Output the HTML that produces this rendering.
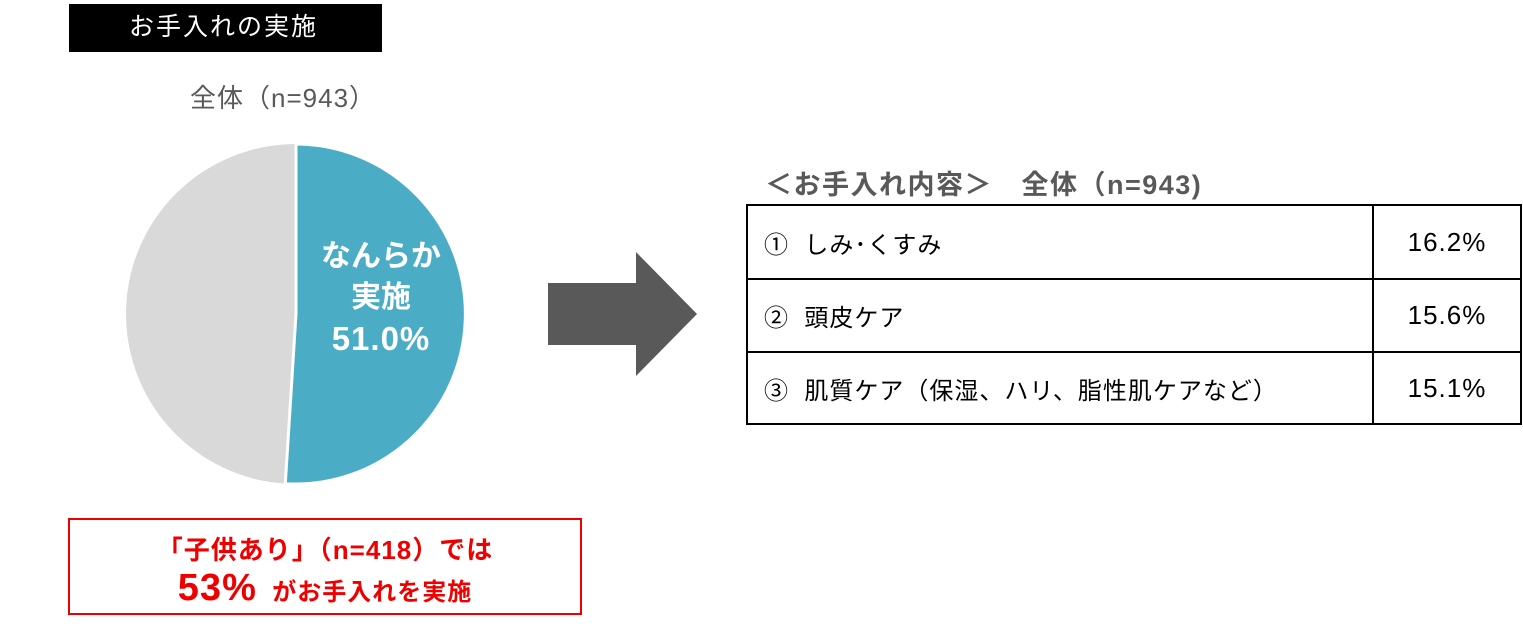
<!DOCTYPE html>
<html><head><meta charset="utf-8"><style>
body{margin:0;width:1523px;height:631px;background:#fff;position:relative;overflow:hidden;font-family:"Liberation Sans","Noto Sans CJK JP",sans-serif}
.a{position:absolute;white-space:nowrap}
td{border:2px solid #000;font-size:24px;color:#000;padding:0;letter-spacing:1px}
</style></head><body>
<div class="a" style="left:69px;top:4px;width:313px;height:48px;background:#000;color:#fff;font-size:25px;letter-spacing:2px;line-height:46px;text-indent:60px">お手入れの実施</div>
<div class="a" style="left:190px;top:78px;font-size:26px;color:#595959;letter-spacing:1px">全体（n=943）</div>
<svg class="a" style="left:0;top:0" width="720" height="631">
<circle cx="296" cy="314" r="170" fill="#d9d9d9"/>
<path d="M296 314 L296 144 A170 170 0 1 1 285.3 483.7 Z" fill="#4bacc6" stroke="#fff" stroke-width="3"/>
<polygon points="548,283 636,283 636,252 697,314 636,376 636,345 548,345" fill="#595959"/>
</svg>
<div class="a" style="left:316px;top:236px;width:130px;text-align:center;color:#fff;font-weight:bold;font-size:30px;line-height:41px"><span>なんらか</span><br>実施<br><span style="font-size:33px;letter-spacing:1px">51.0%</span></div>
<div class="a" style="left:68px;top:518px;width:514px;height:97px;border:2px solid #e00;box-sizing:border-box;color:#e00;font-weight:bold;text-align:center">
<div style="font-size:26px;margin-top:10px;letter-spacing:1px">「子供あり」（n=418）では</div>
<div style="font-size:24px;margin-top:0px;letter-spacing:1px"><span style="font-size:38px">53%</span>&nbsp; がお手入れを実施</div></div>
<div class="a" style="left:765px;top:163px;font-size:27px;font-weight:bold;color:#595959;letter-spacing:1.5px">＜お手入れ内容＞　全体（n=943)</div>
<table class="a" style="left:746px;top:204px;border-collapse:collapse;width:776px">
<tr style="height:74px"><td style="padding-left:16px">①&nbsp; しみ･くすみ</td><td style="width:146px;text-align:center;font-size:26px">16.2%</td></tr>
<tr style="height:73px"><td style="padding-left:16px">②&nbsp; 頭皮ケア</td><td style="text-align:center;font-size:26px">15.6%</td></tr>
<tr style="height:72px"><td style="padding-left:16px">③&nbsp; 肌質ケア（保湿、ハリ、脂性肌ケアなど）</td><td style="text-align:center;font-size:26px">15.1%</td></tr>
</table>
</body></html>
